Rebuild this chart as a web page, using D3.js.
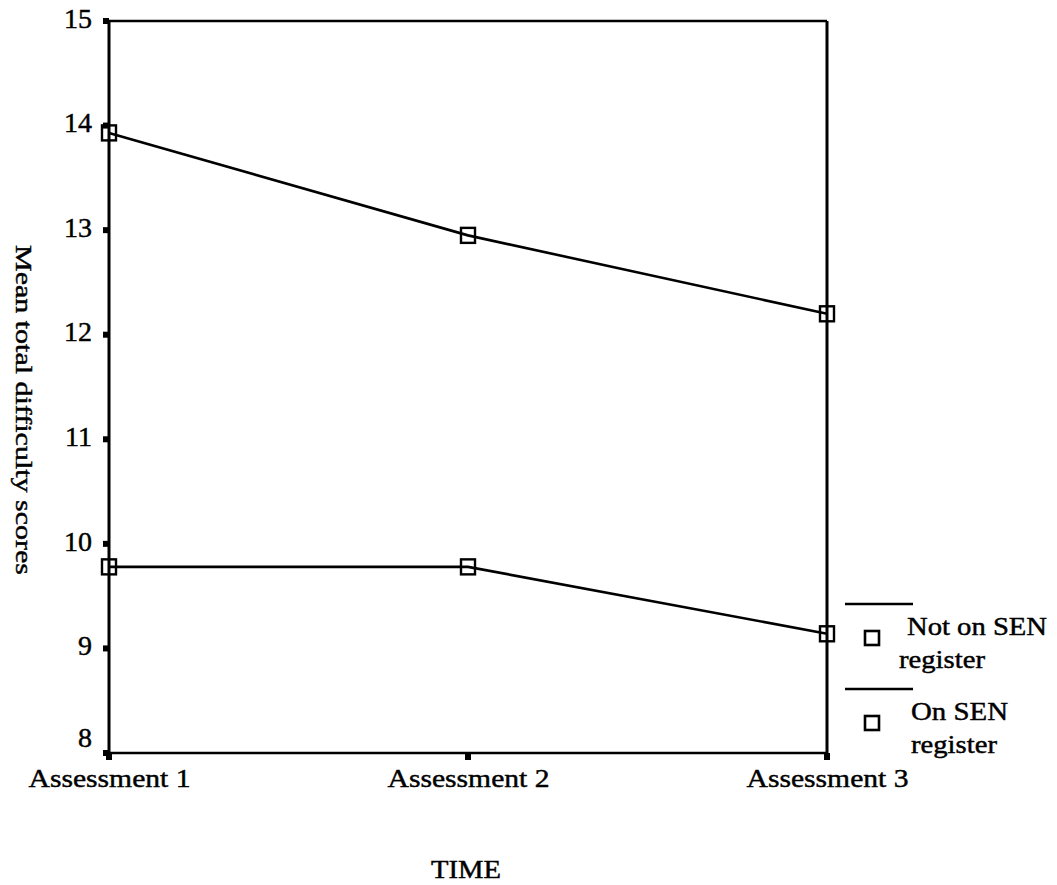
<!DOCTYPE html>
<html>
<head>
<meta charset="utf-8">
<script src="https://cdn.jsdelivr.net/npm/d3@7"></script>
<style>
  html, body { margin: 0; padding: 0; background: #fff; }
  svg { display: block; }
  text { font-family: "Liberation Serif", "Times New Roman", serif; fill: #000; stroke: #000; stroke-width: 0.45px; }
</style>
</head>
<body>
<svg id="chart" width="1057" height="885"></svg>
<script>
// ---- data ----
const categories = ["Assessment 1", "Assessment 2", "Assessment 3"];
const seriesNames = ["Not on SEN register", "On SEN register"];
const notOnSEN = [13.93, 12.95, 12.2];
const onSEN = [9.78, 9.78, 9.14];
const yTicks = [8, 9, 10, 11, 12, 13, 14, 15];
const legendLines = [["Not on SEN", "register"], ["On SEN", "register"]];

(function () {
// ---- layout ----
const svg = d3.select("#chart");
const pl = 109, pr = 827, pt = 21, pb = 753;

const x = d3.scalePoint().domain(categories).range([pl, pr]).padding(0);
const y = d3.scaleLinear().domain([8, 15]).range([pb, pt]);

// frame: left, top, right, bottom
const g = svg.append("g");
g.append("line").attr("x1", pl).attr("x2", pl).attr("y1", y(15)).attr("y2", y(8))
  .attr("stroke", "#000").attr("stroke-width", 3);
g.append("line").attr("x1", pr).attr("x2", pr).attr("y1", y(15)).attr("y2", y(8))
  .attr("stroke", "#000").attr("stroke-width", 3);
g.append("line").attr("x1", pl).attr("x2", pr).attr("y1", y(15)).attr("y2", y(15))
  .attr("stroke", "#000").attr("stroke-width", 2.6);
g.append("line").attr("x1", pl).attr("x2", pr).attr("y1", y(8)).attr("y2", y(8))
  .attr("stroke", "#000").attr("stroke-width", 2.6);

// y axis via d3 axis (labels), with square tick marks
const yAxis = d3.axisLeft(y).tickValues(yTicks).tickSize(0).tickPadding(0).tickFormat(d3.format("d"));
const ya = g.append("g").attr("transform", `translate(${pl - 17},0)`).call(yAxis);
ya.select(".domain").remove();
ya.selectAll("text").attr("font-size", 28).attr("font-family", "Liberation Serif")
  .attr("fill", "#000")
  .attr("dy", d => d === 8 ? "-0.25em" : "0.22em");
g.selectAll(".ytick").data(yTicks).join("rect")
  .attr("x", pl - 6).attr("y", d => y(d) - 3).attr("width", 6).attr("height", 6).attr("fill", "#000");

// x axis
const xAxis = d3.axisBottom(x).tickSize(0).tickPadding(0);
const xa = g.append("g").attr("transform", `translate(0,${pb + 34})`).call(xAxis);
xa.select(".domain").remove();
xa.selectAll("text").attr("font-size", 26).attr("font-family", "Liberation Serif")
  .attr("dy", 0).attr("fill", "#000")
  .attr("textLength", 162).attr("lengthAdjust", "spacingAndGlyphs");
g.selectAll(".xtick").data(categories).join("rect")
  .attr("x", d => x(d) - 3).attr("y", pb).attr("width", 6).attr("height", 7).attr("fill", "#000");

// axis titles
svg.append("text").attr("transform", `translate(16,410) rotate(90)`)
  .attr("text-anchor", "middle").attr("font-size", 24)
  .attr("textLength", 330).attr("lengthAdjust", "spacingAndGlyphs")
  .text("Mean total difficulty scores");
svg.append("text").attr("x", 466).attr("y", 878).attr("text-anchor", "middle")
  .attr("font-size", 26).attr("textLength", 70).attr("lengthAdjust", "spacingAndGlyphs")
  .text("TIME");

// series
const series = [notOnSEN, onSEN];
const line = d3.line().x((d, i) => x(categories[i])).y(d => y(d));
series.forEach(vals => {
  g.append("path").attr("d", line(vals)).attr("fill", "none")
    .attr("stroke", "#000").attr("stroke-width", 2.6);
  g.selectAll(null).data(vals).join("rect")
    .attr("x", (d, i) => x(categories[i]) - 7).attr("y", d => y(d) - 7.5)
    .attr("width", 14).attr("height", 15)
    .attr("fill", "none").attr("stroke", "#000").attr("stroke-width", 2.4);
});

// legend
const lg = svg.append("g");
const legendTop = [604, 689];
seriesNames.forEach((name, i) => {
  const ly = legendTop[i];
  lg.append("line").attr("x1", 845).attr("x2", 913).attr("y1", ly).attr("y2", ly)
    .attr("stroke", "#000").attr("stroke-width", 2.4);
  lg.append("rect").attr("x", 865).attr("y", ly + 27).attr("width", 14).attr("height", 14)
    .attr("fill", "none").attr("stroke", "#000").attr("stroke-width", 2.6);
  const t = legendLines[i];
  lg.append("text").attr("x", i === 0 ? 907 : 911).attr("y", ly + 31).attr("font-size", 26)
    .attr("textLength", i === 0 ? 140 : 97).attr("lengthAdjust", "spacingAndGlyphs").text(t[0]);
  lg.append("text").attr("x", i === 0 ? 899 : 911).attr("y", ly + 64).attr("font-size", 26)
    .attr("textLength", 86).attr("lengthAdjust", "spacingAndGlyphs").text(t[1]);
});
})();
</script>
</body>
</html>
